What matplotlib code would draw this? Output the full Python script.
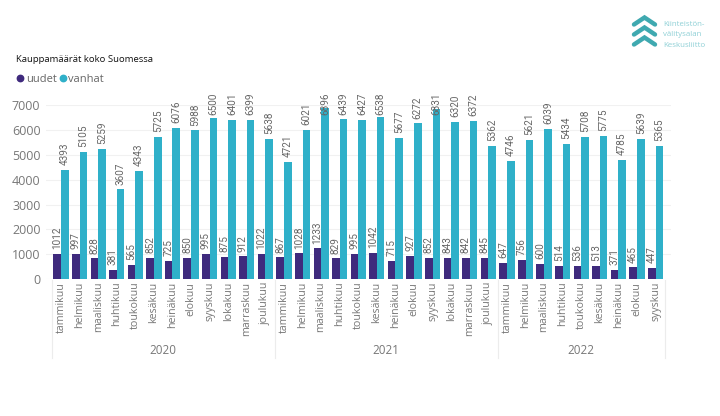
"""Kauppamäärät koko Suomessa: monthly grouped bars, new vs old homes."""

import matplotlib

matplotlib.use("Agg")
import matplotlib.pyplot as plt
from matplotlib.lines import Line2D

plt.rcParams["font.family"] = ["Open Sans", "DejaVu Sans"]

UUDET = "#3f2a7d"
VANHAT = "#2fb0c9"
TICK = "#777777"
GRID = "#f1f1f1"
LOGO = "#3fa9b0"
LOGO_TEXT = "#8fd0d6"

months = ["tammikuu", "helmikuu", "maaliskuu", "huhtikuu", "toukokuu", "kesäkuu",
          "heinäkuu", "elokuu", "syyskuu", "lokakuu", "marraskuu", "joulukuu"]
years = ["2020", "2021", "2022"]
months_per_year = [12, 12, 9]
uudet = [1012, 997, 828, 381, 565, 852, 725, 850, 995, 875, 912, 1022,
         867, 1028, 1233, 829, 995, 1042, 715, 927, 852, 843, 842, 845,
         647, 756, 600, 514, 536, 513, 371, 465, 447]
vanhat = [4393, 5105, 5259, 3607, 4343, 5725, 6076, 5988, 6500, 6401, 6399, 5638,
          4721, 6021, 6896, 6439, 6427, 6538, 5677, 6272, 6831, 6320, 6372, 5362,
          4746, 5621, 6039, 5434, 5708, 5775, 4785, 5639, 5365]
yticks = [0, 1000, 2000, 3000, 4000, 5000, 6000, 7000]

W, H = 720, 416
LABEL_CAP = 6420  # labels of the tallest bars slide down into the bar


def fx(px):
    return px / W


def fy(py):
    return 1 - py / H


fig = plt.figure(figsize=(W / 100, H / 100), dpi=100, facecolor="white")
ax = fig.add_axes([fx(46), fy(279), (671 - 46) / W, (279 - 105.3) / H])

labels = [m for n in months_per_year for m in months[:n]]
xs = list(range(len(labels)))
width = 0.41

ax.bar([x - width / 2 for x in xs], uudet, width, color=UUDET, zorder=2)
ax.bar([x + width / 2 for x in xs], vanhat, width, color=VANHAT, zorder=2)

for x, u, v in zip(xs, uudet, vanhat):
    for xpos, val in ((x - width / 2, u), (x + width / 2, v)):
        ax.annotate(str(val), (xpos, min(val, LABEL_CAP)), xytext=(0, 3.5),
                    textcoords="offset points", rotation=90, ha="center",
                    va="bottom", fontsize=7.2, color="#666666",
                    family="Roboto", annotation_clip=False, zorder=3)

ax.set_xlim(-0.807, 32.83)
ax.set_ylim(0, 7000)
ax.set_yticks(yticks)
ax.set_xticks(xs)
ax.set_xticklabels(labels, rotation=90, fontsize=7.7, color=TICK)
ax.tick_params(axis="x", length=0, pad=2)
ax.tick_params(axis="y", length=0, pad=4, labelsize=9, labelcolor=TICK)
ax.grid(True, axis="y", color=GRID, linewidth=0.8)
ax.set_axisbelow(True)
for side in ax.spines:
    ax.spines[side].set_visible(False)

# year level of the x axis: separators and centred year names
start = 0
for year, n in zip(years, months_per_year):
    x0 = ax.transData.transform((start - 0.5, 0))[0] / W
    x1 = ax.transData.transform((start + n - 0.5, 0))[0] / W
    fig.add_artist(Line2D([x0, x0], [fy(280), fy(358)], color="#ececec", linewidth=0.8))
    fig.text((x0 + x1) / 2, fy(350), year, ha="center", va="center",
             fontsize=8.4, color=TICK)
    start += n
fig.add_artist(Line2D([x1, x1], [fy(280), fy(358)], color="#ececec", linewidth=0.8))

# title and legend
fig.text(fx(16), fy(59), "Kauppamäärät koko Suomessa", fontsize=6.8, color="#111111",
         va="center")
fig.add_artist(Line2D([fx(20)], [fy(78)], marker="o", markersize=4.6, color=UUDET))
fig.text(fx(26), fy(79), "uudet", fontsize=8, color="#666666", va="center")
fig.add_artist(Line2D([fx(63)], [fy(78)], marker="o", markersize=4.6, color=VANHAT))
fig.text(fx(68), fy(79), "vanhat", fontsize=8, color="#666666", va="center")

# logo
for top in (17.5, 27.5, 37.5):
    fig.add_artist(Line2D([fx(634), fx(644.5), fx(655)],
                          [fy(top + 7), fy(top), fy(top + 7)],
                          color=LOGO, linewidth=3.2, solid_capstyle="round",
                          solid_joinstyle="miter"))
for py, line in ((24.5, "Kiinteistön-"), (35, "välitysalan"), (45.5, "Keskusliitto")):
    fig.text(fx(663), fy(py), line, fontsize=5.7, color=LOGO_TEXT, va="center")

fig.savefig("out.png", dpi=100, facecolor="white")
